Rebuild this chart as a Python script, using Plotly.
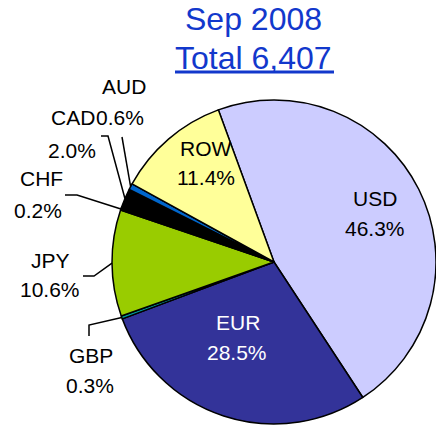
import math
import plotly.graph_objects as go

# ---- data ----
currencies = ["USD", "EUR", "GBP", "JPY", "CHF", "CAD", "AUD", "ROW"]
shares = [46.3, 28.5, 0.3, 10.6, 0.2, 2.0, 0.6, 11.4]
share_labels = ["46.3%", "28.5%", "0.3%", "10.6%", "0.2%", "2.0%", "0.6%", "11.4%"]
slice_colors = ["#CCCCFF", "#333399", "#009999", "#99CC00", "#000000", "#000000", "#0066CC", "#FFFF99"]
title_line1 = "Sep 2008"
title_line2 = "Total 6,407"

# ---- layout geometry (pixels) ----
W, H = 436, 433
CX, CY, R = 274, 262, 162
ROT = -20.1
FONT = "Liberation Sans, Arial, sans-serif"
TITLE_COLOR = "#1238CC"

def px(x, y):
    return x / W, 1 - y / H

fig = go.Figure()
dx0, dy0 = px(CX - R, CY + R)
dx1, dy1 = px(CX + R, CY - R)
fig.add_trace(go.Pie(
    labels=currencies, values=shares, sort=False, direction="clockwise",
    rotation=ROT, textinfo="none", hoverinfo="label+percent",
    marker=dict(colors=slice_colors, line=dict(color="#000000", width=1.5)),
    domain=dict(x=[max(0, dx0), min(1, dx1)], y=[max(0, dy0), min(1, dy1)]),
    showlegend=False,
))

# label placement (pixel centres of name line / value line)
label_pos = {
    "USD": (375, 198, 375, 228, "#000000"),
    "EUR": (238, 322, 237, 352, "#FFFFFF"),
    "ROW": (206, 148, 206, 177, "#000000"),
    "AUD": (124, 87, 120, 118, "#000000"),
    "CAD": (73, 118, 72, 150, "#000000"),
    "CHF": (41, 178, 38, 210, "#000000"),
    "JPY": (50, 260, 50, 289, "#000000"),
    "GBP": (91, 355, 90, 385, "#000000"),
}
# leader line start/elbow points for outside labels
leader_pts = {
    "AUD": [(122, 137)],
    "CAD": [(101, 136), (108, 136)],
    "CHF": [(65, 195), (77, 195)],
    "JPY": [(83, 276), (94, 276)],
    "GBP": [(89, 336), (89, 325)],
}

total = sum(shares)
cum = 0.0
for name, val, pct in zip(currencies, shares, share_labels):
    mid = cum + val / 2
    cum += val
    theta = math.radians(ROT + 360 * mid / total)
    ex = CX + R * math.sin(theta)
    ey = CY - R * math.cos(theta)
    nx, ny, vx, vy, col = label_pos[name]
    for (tx, ty, t) in [(nx, ny, name), (vx, vy, pct)]:
        ax, ay = px(tx, ty)
        fig.add_annotation(x=ax, y=ay, xref="paper", yref="paper", text=t, showarrow=False,
                           xanchor="center", yanchor="middle",
                           font=dict(family=FONT, size=21, color=col))
    if name in leader_pts:
        pts = leader_pts[name] + [(ex, ey)]
        path = "M " + " L ".join(f"{px(a, b)[0]:.5f},{px(a, b)[1]:.5f}" for a, b in pts)
        fig.add_shape(type="path", xref="paper", yref="paper", path=path,
                      line=dict(color="#000000", width=1.5))

tx, ty = px(254, 19)
fig.add_annotation(x=tx, y=ty, xref="paper", yref="paper", text=title_line1, showarrow=False,
                   xanchor="center", yanchor="middle", font=dict(family=FONT, size=32, color=TITLE_COLOR))
tx, ty = px(254, 58)
fig.add_annotation(x=tx, y=ty, xref="paper", yref="paper", text=title_line2, showarrow=False,
                   xanchor="center", yanchor="middle", font=dict(family=FONT, size=32, color=TITLE_COLOR))
# underline of the second title line
ux0, uy = px(175, 72)
ux1, _ = px(334, 72)
fig.add_shape(type="line", xref="paper", yref="paper", x0=ux0, x1=ux1, y0=uy, y1=uy,
              line=dict(color=TITLE_COLOR, width=3))

fig.update_layout(width=W, height=H, margin=dict(l=0, r=0, t=0, b=0),
                  paper_bgcolor="#FFFFFF", plot_bgcolor="#FFFFFF")
fig.write_html("out.html", config={"displayModeBar": False},
               post_script="document.body.style.margin='0px';document.body.style.overflow='hidden';")
